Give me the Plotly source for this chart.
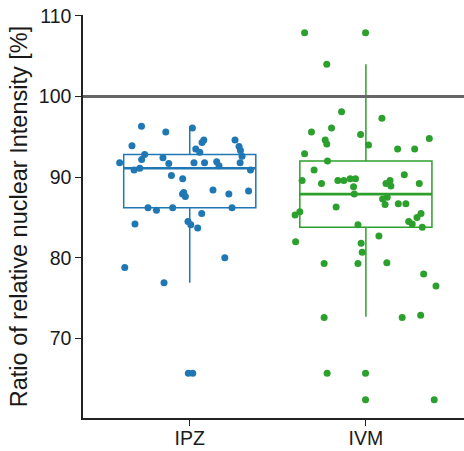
import plotly.graph_objects as go

# ---------------- data ----------------
categories = ["IPZ", "IVM"]
colors = ["#1f77b4", "#2ca02c"]
ref_value = 100

# box statistics
q1 = [86.2, 83.8]
median = [91.1, 87.9]
q3 = [92.8, 92.0]
lower_fence = [76.9, 72.7]
upper_fence = [96.3, 104.0]

# IPZ points: horizontal jitter offset (category units) and value
ipz_jitter = [-0.274, -0.136, 0.015, -0.328, 0.080, 0.070, 0.257, 0.280, 0.288, 0.034,
              0.057, -0.256, -0.273, -0.152, 0.297, -0.398, -0.119, 0.024, 0.084, 0.153,
              0.166, 0.286, -0.316, -0.284, 0.345, -0.104, -0.040, 0.132, 0.334, 0.222,
              -0.041, -0.025, -0.034, -0.237, -0.189, -0.097, 0.240, 0.068, -0.010, 0.006,
              0.045, -0.311, 0.199, -0.369, -0.146, -0.008, 0.017]
ipz_values = [96.3, 95.6, 96.1, 93.9, 94.6, 94.3, 94.6, 93.8, 93.3, 93.5,
              93.1, 92.8, 92.2, 92.4, 92.6, 91.8, 91.7, 91.8, 91.8, 91.9,
              91.4, 91.8, 90.9, 91.1, 90.9, 90.2, 89.8, 88.4, 88.3, 87.9,
              87.9, 87.6, 88.1, 86.2, 85.9, 86.2, 86.2, 85.5, 84.5, 84.1,
              83.7, 84.2, 80.0, 78.8, 76.9, 65.7, 65.7]

# IVM points
ivm_jitter = [-0.348, -0.002, -0.222, -0.138, 0.091, -0.309, -0.195, -0.231, -0.222, -0.030,
              0.015, 0.360, 0.180, 0.277, -0.348, -0.218, -0.294, 0.218, -0.362, -0.252,
              -0.159, -0.125, -0.089, -0.059, -0.070, -0.066, 0.114, 0.137, 0.142, 0.303,
              0.095, 0.121, 0.109, 0.184, 0.227, -0.169, -0.375, -0.402, 0.313, 0.290,
              0.243, 0.263, 0.320, -0.045, -0.399, 0.074, -0.027, -0.021, -0.237, -0.045,
              0.119, 0.328, 0.398, -0.237, 0.206, 0.311, -0.220, -0.002, -0.002, 0.388]
ivm_values = [107.9, 107.9, 104.0, 98.1, 97.3, 95.6, 96.1, 94.6, 94.1, 95.3,
              94.0, 94.8, 93.5, 93.5, 92.9, 92.0, 90.9, 90.3, 89.6, 89.2,
              89.6, 89.6, 89.8, 89.8, 88.8, 87.9, 89.2, 89.6, 88.9, 89.2,
              87.3, 87.5, 86.6, 86.7, 86.7, 86.3, 85.7, 85.3, 85.5, 85.0,
              84.5, 84.2, 83.8, 84.1, 82.0, 82.7, 81.8, 80.7, 79.3, 79.3,
              79.4, 78.0, 76.5, 72.6, 72.6, 72.9, 65.7, 65.7, 62.4, 62.4]

y_ticks = [70, 80, 90, 100, 110]
y_title = "Ratio of relative nuclear Intensity [%]"

# ---------------- figure ----------------
BOX_W = 0.75
FONT = "Liberation Sans, Arial, sans-serif"
fig = go.Figure()

jitters = [ipz_jitter, ivm_jitter]
values = [ipz_values, ivm_values]

for i, cat in enumerate(categories):
    pos = i + 1
    fig.add_trace(go.Box(
        x=[pos], q1=[q1[i]], median=[median[i]], q3=[q3[i]],
        lowerfence=[lower_fence[i]], upperfence=[upper_fence[i]],
        width=BOX_W, whiskerwidth=0, boxpoints=False,
        line=dict(color=colors[i], width=1.5),
        fillcolor="rgba(0,0,0,0)", showlegend=False, hoverinfo="skip",
    ))
    fig.add_trace(go.Scatter(
        x=[pos - BOX_W / 2, pos + BOX_W / 2], y=[median[i], median[i]],
        mode="lines", line=dict(color=colors[i], width=2.6),
        showlegend=False, hoverinfo="skip",
    ))

for i, cat in enumerate(categories):
    pos = i + 1
    fig.add_trace(go.Scatter(
        x=[pos + j for j in jitters[i]], y=values[i],
        mode="markers", marker=dict(color=colors[i], size=7, line=dict(width=0)),
        name=cat, showlegend=False,
    ))

fig.add_hline(y=ref_value, line=dict(color="#666666", width=3))

fig.update_layout(
    width=464, height=451,
    margin=dict(l=83, r=0, t=15, b=33),
    plot_bgcolor="white", paper_bgcolor="white",
    font=dict(family=FONT, size=19, color="#1a1a1a"),
)
fig.update_xaxes(
    range=[0.394, 2.557], tickvals=[1, 2], ticktext=categories,
    showline=True, linecolor="#222222", linewidth=1.5,
    ticks="outside", ticklen=6, tickwidth=1.3, tickcolor="#222222",
    showgrid=False, zeroline=False, automargin=False,
    tickfont=dict(size=19.5), ticklabelstandoff=-4,
)
fig.update_yaxes(
    range=[60.15, 110.1], tickvals=y_ticks,
    showline=True, linecolor="#222222", linewidth=1.5,
    ticks="outside", ticklen=6, tickwidth=1.3, tickcolor="#222222",
    showgrid=False, zeroline=False, automargin=False,
    tickfont=dict(size=19.5), ticklabeloverflow="allow",
    title=dict(text=y_title, font=dict(size=23.5), standoff=5),
)

# remove the browser's default 8px body margin so the figure fills the window exactly
fig.write_html("out.html", config={"displayModeBar": False},
               post_script="document.body.style.margin='0';")
